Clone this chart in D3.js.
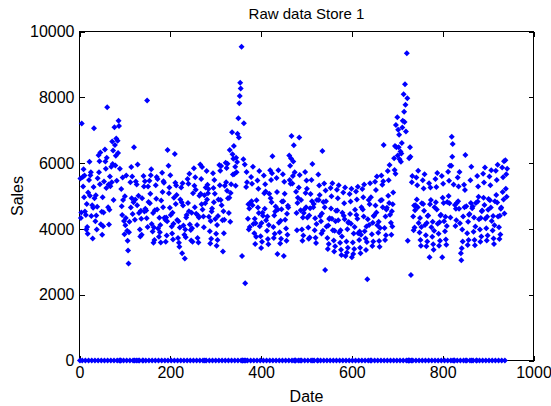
<!DOCTYPE html>
<html lang="en">
<head>
<meta charset="UTF-8">
<title>Raw data Store 1</title>
<script src="https://d3js.org/d3.v7.min.js"></script>
<style>
  body { margin: 0; background: #fff; }
  svg text { font-family: 'Liberation Sans Narrow', 'Liberation Sans', Arial, sans-serif; fill: #000; }
  .axis path { display: none; }
  .axis line { stroke: #000; shape-rendering: crispEdges; }
  .axis text { font-size: 16px; }
</style>
</head>
<body>
<script>
// daily sales of store 1, day 1 = 2013-01-01 (0 = shop closed)
const sales = [
  0, 5530, 4330, 4500, 7200, 0,
  5580, 5290, 5810, 4960, 5620, 4530, 0,
  4420, 3980, 4760, 4060, 3850, 5110, 0,
  5490, 6040, 5010, 5630, 5720, 4390, 0,
  4720, 3710, 4640, 5270, 7060, 4930, 0,
  4230, 5020, 4410, 3980, 4670, 5540, 0,
  6240, 5720, 6060, 5360, 6320, 4140, 0,
  4520, 3820, 4960, 4080, 4500, 5440, 0,
  6410, 6050, 5830, 5240, 6160, 7700, 0,
  4660, 5350, 4130, 4580, 5590, 5300, 0,
  5890, 5420, 6660, 5970, 6380, 4880, 0,
  7090, 6550, 5930, 6220, 6750, 5460, 0,
  6680, 6310, 7290, 7130, 0, 5830, 0,
  0, 5210, 4690, 4420, 5560, 4880, 0,
  4240, 3840, 4990, 4110, 4330, 5620, 0,
  3945, 3640, 3340, 2950, 3900, 4220, 0,
  5420, 4650, 5880, 4930, 5590, 4450, 0,
  4810, 6480, 0, 4280, 4890, 5440, 0,
  5350, 4720, 5960, 0, 5010, 4480, 0,
  3980, 3770, 4550, 4310, 3820, 4930, 0,
  0, 5610, 5290, 4530, 5450, 4610, 0,
  4560, 4320, 7900, 4060, 5290, 4820, 0,
  5460, 4780, 5070, 5630, 5810, 4150, 0,
  3920, 4480, 3580, 4040, 3660, 4570, 0,
  5330, 4920, 5580, 4590, 5520, 4010, 0,
  3760, 4340, 3900, 4120, 3590, 4860, 0,
  5710, 5120, 4660, 5450, 5400, 4340, 0,
  4280, 3610, 4350, 3800, 4230, 6400, 0,
  5920, 5080, 5260, 4640, 5630, 4420, 0,
  4070, 3860, 4490, 3680, 4160, 4950, 0,
  6280, 5400, 4760, 5320, 5030, 4270, 0,
  3720, 4230, 3580, 3460, 4040, 4890, 0,
  5260, 4810, 3260, 5390, 4710, 4100, 0,
  3820, 3100, 3980, 3750, 4350, 4420, 0,
  5520, 4790, 5370, 4540, 5680, 4130, 0,
  3970, 3650, 4490, 4020, 3610, 5080, 0,
  5840, 5310, 4660, 5570, 5190, 4460, 0,
  4120, 3720, 4410, 3590, 4350, 5010, 0,
  5960, 5070, 5520, 4750, 5880, 4590, 0,
  4380, 4050, 5020, 0, 4780, 5260, 0,
  5760, 4890, 5340, 5080, 5210, 4370, 0,
  3930, 3560, 4240, 3700, 4530, 4620, 0,
  5690, 5240, 4810, 5490, 5070, 4300, 0,
  3850, 3490, 4120, 3660, 4390, 4890, 0,
  5940, 5330, 5770, 4880, 5910, 4720, 0,
  4260, 3310, 4540, 3870, 4280, 5310, 0,
  6010, 5420, 5850, 5160, 5980, 4930, 0,
  4480, 4950, 6400, 4220, 5090, 5360, 0,
  6940, 6270, 5650, 6130, 6520, 5670, 0,
  5890, 5310, 6160, 5720, 6030, 6890, 0,
  7360, 6780, 7820, 8040, 8440, 8270, 0,
  9540, 3180, 0, 0, 6120, 7210, 0,
  5960, 2350, 0, 5270, 5730, 5420, 0,
  4310, 4750, 3980, 4620, 4060, 4790, 0,
  5580, 4840, 5370, 4720, 5890, 4150, 0,
  3870, 4310, 3540, 4170, 3760, 4870, 0,
  5470, 4650, 5220, 4480, 5760, 4080, 0,
  3780, 3420, 4180, 3610, 4490, 4400, 0,
  5620, 5080, 4610, 5360, 5140, 4260, 0,
  3940, 4380, 3690, 3530, 4120, 5070, 0,
  5780, 4930, 5490, 4810, 5690, 6210, 0,
  4060, 3720, 4410, 3850, 4530, 4680, 0,
  5550, 5120, 3240, 4590, 5780, 4190, 0,
  3900, 3560, 4250, 3700, 4600, 4830, 0,
  5660, 4840, 3180, 5430, 5070, 4280, 0,
  4010, 3640, 4460, 3820, 4700, 4650, 0,
  6230, 5490, 5920, 5370, 6140, 6820, 0,
  5380, 5610, 6050, 6540, 0, 5720, 0,
  0, 5130, 4480, 3960, 4790, 4950, 0,
  5260, 6780, 5640, 0, 4570, 4880, 0,
  3980, 3640, 4350, 3800, 4480, 4590, 0,
  5730, 5090, 4660, 5470, 5220, 4350, 0,
  4040, 3700, 4410, 3740, 4630, 5060, 0,
  5490, 4840, 5970, 0, 4660, 4760, 0,
  3960, 4320, 3730, 3570, 4150, 4880, 0,
  0, 5650, 4880, 5320, 5030, 4390, 0,
  4230, 3860, 4470, 6370, 3940, 4820, 0,
  5380, 4660, 2750, 5170, 4840, 4070, 0,
  3720, 3390, 4100, 3540, 4300, 4320, 0,
  5240, 4620, 4990, 4310, 5390, 3960, 0,
  3650, 3310, 3940, 3470, 4230, 4550, 0,
  5190, 4560, 4930, 4260, 5330, 3890, 0,
  3580, 3960, 3370, 3210, 3770, 4490, 0,
  5110, 4400, 4780, 4290, 5260, 3180, 0,
  3620, 3280, 3990, 3430, 4190, 4210, 0,
  5060, 4450, 4830, 4160, 5220, 3140, 0,
  3590, 3240, 3860, 3390, 4060, 4580, 0,
  5140, 4420, 4890, 4310, 5280, 3870, 0,
  3660, 3920, 3430, 3260, 3820, 4660, 0,
  5210, 4590, 4960, 4380, 5350, 3930, 0,
  3710, 3360, 4070, 3600, 2470, 4290, 0,
  4880, 4120, 4750, 5390, 0, 4960, 0,
  3840, 3480, 4190, 3620, 4390, 4410, 0,
  5430, 4710, 5180, 4500, 5590, 4110, 0,
  3880, 4220, 3630, 3460, 4030, 4860, 0,
  5620, 4880, 5340, 4660, 5450, 6550, 0,
  4030, 3660, 4380, 3810, 4590, 4640, 0,
  5760, 5010, 5480, 4790, 5940, 4430, 0,
  4190, 3820, 4540, 4070, 4750, 5110, 0,
  6150, 5790, 6520, 5680, 7160, 6480, 0,
  7390, 6230, 7010, 6480, 6860, 6120, 0,
  6350, 6040, 6290, 6610, 7080, 7290, 0,
  8090, 7560, 7250, 8400, 7770, 6960, 0,
  9340, 7970, 3640, 0, 0, 6150, 0,
  6480, 6190, 2600, 0, 5420, 5610, 0,
  4380, 3960, 4710, 4040, 4570, 4720, 0,
  5560, 4890, 5330, 4660, 5770, 4180, 0,
  3890, 4330, 3660, 3490, 4060, 4780, 0,
  5480, 4760, 5230, 4550, 5660, 4120, 0,
  3810, 3470, 4180, 3620, 4390, 4410, 0,
  5390, 3140, 4750, 5260, 4880, 4050, 0,
  3760, 4220, 3530, 3370, 3940, 4660, 0,
  5520, 4810, 5270, 4590, 5700, 4160, 0,
  3850, 3490, 4200, 3640, 4410, 4430, 0,
  5610, 3140, 4950, 5370, 4790, 4230, 0,
  3930, 4370, 3680, 3520, 4090, 4820, 0,
  5740, 5000, 5460, 4780, 5920, 4350, 0,
  5920, 6800, 6190, 6580, 0, 5350, 0,
  0, 4730, 4090, 4610, 4260, 4790, 0,
  5560, 4840, 5290, 4610, 5730, 4170, 0,
  3260, 3050, 3410, 3980, 3620, 4380, 0,
  5340, 4660, 5180, 6250, 0, 4690, 0,
  3870, 3510, 4220, 3660, 4430, 4450, 0,
  5480, 4790, 5890, 0, 4630, 4680, 0,
  3910, 4350, 3660, 3500, 4070, 4790, 0,
  0, 5610, 4830, 5290, 4980, 4290, 0,
  3980, 3610, 4330, 3770, 4540, 4560, 0,
  5680, 4950, 5410, 4730, 5870, 4310, 0,
  4020, 3650, 4370, 3800, 4580, 4910, 0,
  5590, 4870, 5330, 4650, 5780, 4240, 0,
  3950, 4390, 3710, 3540, 4110, 4840, 0,
  5770, 5030, 5490, 4800, 5950, 4380, 0,
  4050, 3690, 4400, 3830, 4610, 4650, 0,
  5870, 5120, 5570, 4890, 6060, 4470, 0,
  6090, 5220, 5660, 4980, 5830
];

const xTicks = [0, 200, 400, 600, 800, 1000];
const yTicks = [0, 2000, 4000, 6000, 8000, 10000];

const width = 551, height = 406;
const plotLeft = 79.5, plotRight = 533.5, plotTop = 31.5, plotBottom = 360.5;

const svg = d3.select('body').append('svg')
    .attr('width', width)
    .attr('height', height);

const x = d3.scaleLinear().domain([0, 1000]).range([plotLeft, plotRight]);
const y = d3.scaleLinear().domain([0, 10000]).range([plotBottom, plotTop]);

// inward ticks on all four sides, like a matlab box
svg.append('g').attr('class', 'axis')
    .attr('transform', `translate(0,${plotBottom})`)
    .call(d3.axisBottom(x).tickValues(xTicks).tickSize(-5).tickPadding(6).tickFormat(d3.format('d')));
svg.append('g').attr('class', 'axis')
    .attr('transform', `translate(0,${plotTop})`)
    .call(d3.axisTop(x).tickValues(xTicks).tickSize(-5).tickFormat(''));
svg.append('g').attr('class', 'axis')
    .attr('transform', `translate(${plotLeft},0)`)
    .call(d3.axisLeft(y).tickValues(yTicks).tickSize(-5).tickPadding(5).tickFormat(d3.format('d')));
svg.append('g').attr('class', 'axis')
    .attr('transform', `translate(${plotRight},0)`)
    .call(d3.axisRight(y).tickValues(yTicks).tickSize(-5).tickFormat(''));

svg.append('rect')
    .attr('x', plotLeft).attr('y', plotTop)
    .attr('width', plotRight - plotLeft).attr('height', plotBottom - plotTop)
    .attr('fill', 'none').attr('stroke', '#000')
    .style('shape-rendering', 'crispEdges');

// the points
svg.append('g')
    .selectAll('path')
    .data(sales)
    .join('path')
    .attr('transform', (d, i) => `translate(${x(i + 1)},${y(d)})`)
    .attr('d', 'M0,-3L3,0L0,3L-3,0Z')
    .attr('fill', '#0000ff');

svg.append('text')
    .attr('x', (plotLeft + plotRight) / 2).attr('y', 19)
    .attr('text-anchor', 'middle')
    .style('font-size', '15px')
    .text('Raw data Store 1');

svg.append('text')
    .attr('x', (plotLeft + plotRight) / 2).attr('y', 402)
    .attr('text-anchor', 'middle')
    .style('font-size', '16px')
    .text('Date');

svg.append('text')
    .attr('transform', `translate(23,${(plotTop + plotBottom) / 2}) rotate(-90)`)
    .attr('text-anchor', 'middle')
    .style('font-size', '16px')
    .text('Sales');
</script>
</body>
</html>
